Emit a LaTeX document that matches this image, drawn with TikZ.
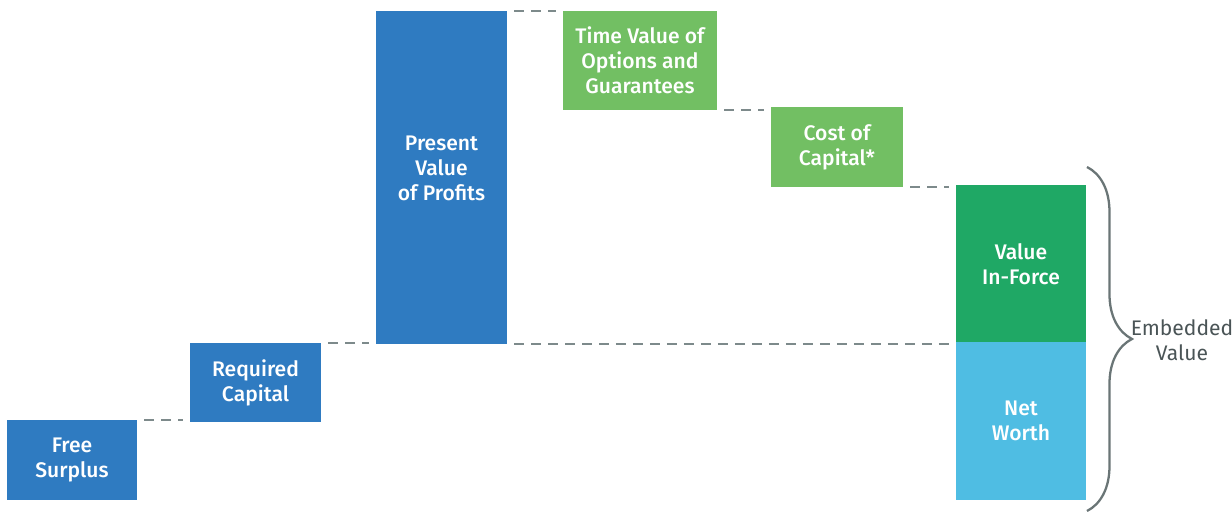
\documentclass[tikz,border=0pt]{standalone}
\usepackage{fontspec}
\setmainfont{Fira Sans}[BoldFont={Fira Sans Medium}]
\usepackage{tikz}
\usetikzlibrary{decorations.pathreplacing}

\definecolor{evblue}{HTML}{2F7BC1}
\definecolor{evgreen}{HTML}{72BF63}
\definecolor{evdkgreen}{HTML}{1FA865}
\definecolor{evsky}{HTML}{4FBDE3}
\definecolor{evgrey}{HTML}{7D8A8B}
\definecolor{evtext}{HTML}{4A5456}

\begin{document}
\begin{tikzpicture}[
  x=0.02cm, y=-0.02cm,
  font=\fontsize{12}{14.2}\selectfont\bfseries,
  bar/.style={inner sep=0pt,outer sep=0pt,align=center,text=white},
  link/.style={evgrey,line width=1.5pt,dash pattern=on 0.2cm off 0.14cm}]
\useasboundingbox (0,0) rectangle (1232,513);
% steps of the build-up
\node[bar,fill=evblue,minimum width=2.6cm,minimum height=1.6cm] (fs) at (72,460) {Free\\Surplus};
\node[bar,fill=evblue,minimum width=2.62cm,minimum height=1.58cm] (rc) at (255.5,382.5) {Required\\Capital};
\node[bar,fill=evblue,minimum width=2.62cm,minimum height=6.66cm] (pvp) at (441.5,177.5) {};
\node[bar] at (441.5,168) {Present\\Value\\of Profits};
\node[bar,fill=evgreen,minimum width=3.08cm,minimum height=1.98cm] (tvog) at (640,60.5) {Time Value of\\Options and\\Guarantees};
\node[bar,fill=evgreen,minimum width=2.64cm,minimum height=1.6cm] (coc) at (837,147) {Cost of\\Capital*};
\node[bar,fill=evdkgreen,minimum width=2.6cm,minimum height=3.16cm] (vif) at (1021,264) {Value\\In-Force};
\node[bar,fill=evsky,minimum width=2.6cm,minimum height=3.16cm] (nw) at (1021,421) {Net\\Worth};
% dashed links
\draw[link] ([xshift=4pt]fs.north east) -- ([xshift=-4pt]fs.north east -| rc.west);
\draw[link] ([xshift=4pt]rc.north east) -- ([xshift=-4pt]rc.north east -| pvp.west);
\draw[link] ([xshift=4pt]pvp.north east) -- ([xshift=-4pt]pvp.north east -| tvog.west);
\draw[link] ([xshift=4pt]tvog.south east) -- ([xshift=-4pt]tvog.south east -| coc.west);
\draw[link] ([xshift=4pt]coc.south east) -- ([xshift=-4pt]coc.south east -| vif.west);
\draw[link] ([xshift=4pt]pvp.south east) -- ([xshift=-4pt]pvp.south east -| vif.west);
% brace
\coordinate (btop) at (1087,167);
\coordinate (bbot) at (1087,511);
\draw[evgrey!85!black,line width=1.3pt,decorate,decoration={brace,amplitude=0.9cm}] (btop) -- (bbot);
\node[text=evtext,font=\fontsize{12}{14.2}\selectfont,align=center] (ev) at (1182,340) {Embedded\\Value};
\end{tikzpicture}
\end{document}
